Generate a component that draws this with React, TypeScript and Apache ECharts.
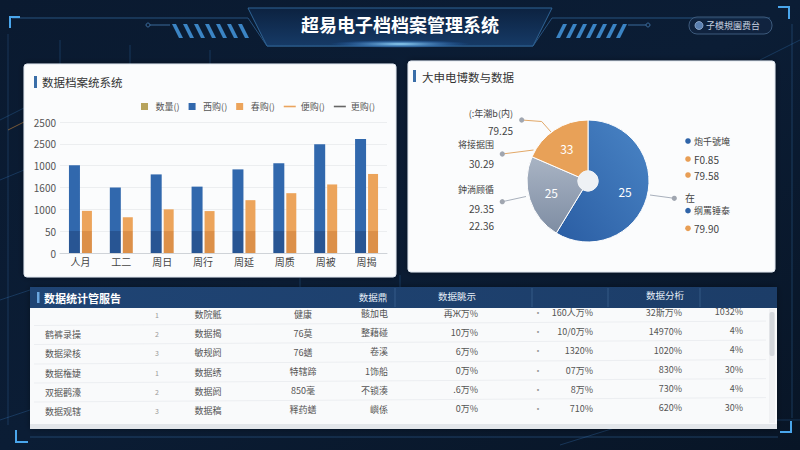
import { useEffect, useRef } from "react";
import * as echarts from "echarts";

// ---------- data ----------
const categories = ["人月", "工二", "周日", "周行", "周延", "周质", "周被", "周揭"];
const blueValues = [2010, 1500, 1800, 1520, 1915, 2055, 2490, 2610];
const orangeValues = [965, 820, 1000, 960, 1210, 1370, 1570, 1810];
const yTickLabels = ["0", "50", "1000", "1600", "1000", "2500", "2500"];
const legendNames = ["数量()", "西购()", "春购()", "便购()", "更购()"];

const pieNames = ["档案利用", "资源分类", "鉴定存储"];
const pieValues = [58.7, 22.8, 18.5];
const pieInnerLabels = ["25", "25", "33"];
const pieLeftTitles = ["(:年潮b(内)", "将接据围", "鈡淌顾循"];
const pieLeftValues = [["79.25"], ["30.29"], ["29.35", "22.36"]];
const pieRightItems = ["炮千號埯", "F0.85", "79.58", "在", "纲罵锤泰", "79.90"];
const pieRightDots = ["blue", "orange", "orange", "", "blue", "orange"];

const tableHeaders = ["数据鼎", "数据眺示", "数据分桁"];
const rowNames = ["", "鹤裤录操", "数据梁核", "数据権婕", "双据鹳濠", "数据观辖"];
const rowIndex = ["1", "2", "3", "1", "2", "3"];
const colA = ["数院骶", "数据揭", "敏规阏", "数据绣", "数据阏", "数据稿"];
const colB = ["健康", "76莫", "76蟮", "特辖蹄", "850毫", "释药蟮"];
const colC = ["骸加电", "整藉碰", "卷溪", "1饰船", "不锁湊", "嶼係"];
const colD = ["再Ж万%", "10万%", "6万%", "0万%", ".6万%", "0万%"];
const colE = ["160人万%", "10/0万%", "1320%", "07万%", "8万%", "710%"];
const colF = ["32斯万%", "14970%", "1020%", "830%", "730%", "620%"];
const colG = ["1032%", "4%", "4%", "30%", "4%", "30%"];

const FONT = "'Noto Sans CJK SC', 'Noto Sans', sans-serif";
const BLUE = "#2f64a8";
const ORANGE = "#e89e55";

function txt(x: number, y: number, text: string, o: any = {}) {
  return {
    type: "text",
    x,
    y,
    z: o.z ?? 5,
    style: {
      text,
      fill: o.fill ?? "#555",
      fontSize: o.size ?? 9,
      fontFamily: FONT,
      fontWeight: o.weight ?? "normal",
      align: o.align ?? "left",
      verticalAlign: "middle",
    },
  };
}

function buildGraphics() {
  const g: any[] = [];
  // background decorations
  const deco = "rgba(60,130,200,0.28)";
  const bgLines = [
    [[0, 120], [60, 90], [60, 40]],
    [[130, 45], [130, 70]],
    [[210, 50], [210, 66]],
    [[0, 300], [30, 290]],
    [[0, 420], [120, 380], [300, 380]],
    [[560, 445], [640, 420], [800, 420]],
    [[400, 275], [400, 290]],
    [[300, 278], [300, 288]],
    [[760, 60], [800, 40]],
    [[0, 180], [24, 170]],
  ];
  bgLines.forEach((pts) =>
    g.push({ type: "polyline", z: -3, shape: { points: pts }, style: { stroke: deco, lineWidth: 1, fill: null } })
  );
  g.push({ type: "line", z: -3, shape: { x1: 8, y1: 130, x2: 24, y2: 122 }, style: { stroke: "rgba(230,150,60,0.5)", lineWidth: 1 } });

  // header
  g.push({
    type: "polyline",
    z: -2,
    shape: { points: [[12, 18], [248, 18], [267, 46], [533, 46], [552, 18], [770, 18]] },
    style: { stroke: "#27527f", lineWidth: 1, fill: null },
  });
  g.push({
    type: "polygon",
    z: -2,
    shape: { points: [[248, 8], [552, 8], [533, 46], [267, 46]] },
    style: {
      fill: { type: "linear", x: 0, y: 0, x2: 0, y2: 1, colorStops: [{ offset: 0, color: "#0c2240" }, { offset: 1, color: "#163a66" }] },
      stroke: "#2f6496",
      lineWidth: 1,
    },
  });
  g.push({
    type: "ellipse",
    z: -1,
    shape: { cx: 400, cy: 44, rx: 70, ry: 4 },
    style: {
      fill: { type: "radial", x: 0.5, y: 0.5, r: 0.5, colorStops: [{ offset: 0, color: "rgba(160,225,255,0.95)" }, { offset: 1, color: "rgba(40,120,220,0)" }] },
    },
  });
  for (let i = 0; i < 7; i++) {
    const x = 172 + i * 11;
    g.push({ type: "polygon", z: -1, shape: { points: [[x, 24], [x + 4, 24], [x + 11, 38], [x + 7, 38]] }, style: { fill: "#3b84c4" } });
    const xr = 556 + i * 10;
    g.push({ type: "polygon", z: -1, shape: { points: [[xr + 7, 24], [xr + 11, 24], [xr + 4, 38], [xr, 38]] }, style: { fill: "#3b84c4" } });
  }
  g.push({ type: "circle", z: -1, shape: { cx: 148, cy: 25, r: 2 }, style: { fill: null, stroke: "#3a6a9a" } });
  g.push({ type: "line", z: -1, shape: { x1: 150, y1: 25, x2: 170, y2: 25 }, style: { stroke: "#3a6a9a" } });
  g.push({ type: "circle", z: -1, shape: { cx: 648, cy: 25, r: 2 }, style: { fill: null, stroke: "#3a6a9a" } });
  g.push({ type: "line", z: -1, shape: { x1: 628, y1: 25, x2: 646, y2: 25 }, style: { stroke: "#3a6a9a" } });
  g.push(txt(400, 24, "超易电子档档案管理系统", { fill: "#ffffff", size: 18, weight: "bold", align: "center" }));
  // header button
  g.push({ type: "rect", z: -1, shape: { x: 689, y: 17, width: 83, height: 17, r: 8 }, style: { fill: "rgba(20,40,70,0.6)", stroke: "#3d5a7c", lineWidth: 1 } });
  g.push({ type: "circle", z: 3, shape: { cx: 699, cy: 25.5, r: 4 }, style: { fill: "#5a7fb0", stroke: "#9ab4d6", lineWidth: 0.8 } });
  g.push(txt(706, 25.5, "子模規園费台", { fill: "#c3cede", size: 9 }));

  // frame corners
  const cornerStyle = { stroke: "#4aa6ec", lineWidth: 2, fill: null };
  [
    [[10, 28], [10, 17], [20, 17]],
    [[778, 7], [789, 7], [789, 19]],
    [[16, 430], [16, 442], [28, 442]],
    [[780, 432], [791, 432], [791, 421]],
  ].forEach((pts) => g.push({ type: "polyline", z: -1, shape: { points: pts }, style: cornerStyle }));
  g.push({ type: "line", z: -2, shape: { x1: 30, y1: 437, x2: 778, y2: 437 }, style: { stroke: "rgba(70,140,210,0.35)" } });
  g.push({ type: "line", z: -2, shape: { x1: 792, y1: 24, x2: 792, y2: 418 }, style: { stroke: "rgba(70,140,210,0.3)" } });
  g.push({ type: "line", z: -2, shape: { x1: 8, y1: 34, x2: 8, y2: 425 }, style: { stroke: "rgba(70,140,210,0.25)" } });

  // cards (below axes)
  const cardStyle = { fill: "#fbfcfd", shadowBlur: 6, shadowColor: "rgba(0,0,0,0.35)", stroke: "#dfe6ee", lineWidth: 1 };
  g.push({ type: "rect", z: -1, shape: { x: 24, y: 64, width: 372, height: 213, r: 3 }, style: cardStyle });
  g.push({ type: "rect", z: -1, shape: { x: 408, y: 61, width: 367, height: 211, r: 3 }, style: cardStyle });
  g.push({ type: "rect", z: 3, shape: { x: 34, y: 76, width: 3, height: 12 }, style: { fill: "#3a6ea8" } });
  g.push(txt(42, 82, "数据档案统系统", { fill: "#333", size: 11.5 }));
  g.push({ type: "rect", z: 3, shape: { x: 413, y: 70, width: 3, height: 12 }, style: { fill: "#3a6ea8" } });
  g.push(txt(422, 77, "大申电博数与数据", { fill: "#333", size: 11.5 }));

  // pie hole
  g.push({ type: "circle", z: 10, shape: { cx: 588, cy: 181, r: 10.5 }, style: { fill: "#eef1f5" } });
  // pie annotations - left
  const leftTitleY = [113, 144, 189];
  const leftValY = [[130], [163], [208, 225]];
  const leftRight = [513, 494, 494];
  pieLeftTitles.forEach((t, i) => {
    g.push(txt(leftRight[i], leftTitleY[i], t, { align: "right", fill: "#444", size: 9 }));
    pieLeftValues[i].forEach((v, j) => g.push(txt(leftRight[i], leftValY[i][j], v, { align: "right", fill: "#444", size: 10 })));
  });
  const leaders = [
    { pts: [[521.7, 120], [541.7, 121.5], [551, 132]], c: "#e2a868", dot: 0 },
    { pts: [[502.3, 154], [533.5, 150]], c: "#e2a868", dot: 0 },
    { pts: [[502.3, 201.7], [526, 196.5]], c: "#a8b0bc", dot: 0 },
    { pts: [[650, 195], [674.3, 198.3]], c: "#a8b0bc", dot: 1 },
  ];
  leaders.forEach((l) => {
    g.push({ type: "polyline", z: 4, shape: { points: l.pts }, style: { stroke: l.c, lineWidth: 1, fill: null } });
    const p = l.pts[l.dot];
    g.push({ type: "circle", z: 4, shape: { cx: p[0], cy: p[1], r: 2.6 }, style: { fill: "#a0a6b0" } });
  });
  const rightY = [141, 159, 175, 197, 210.7, 228.3];
  pieRightItems.forEach((t, i) => {
    const d = pieRightDots[i];
    if (d) g.push({ type: "circle", z: 4, shape: { cx: 688, cy: rightY[i], r: 2.8 }, style: { fill: d === "blue" ? BLUE : ORANGE } });
    g.push(txt(d ? 694 : 685, rightY[i], t, { fill: "#444", size: d && !/^[A-Z0-9]/.test(t) ? 9 : 10 }));
  });

  // table
  const tX = 30, tW = 747;
  g.push({ type: "rect", z: -1, shape: { x: tX, y: 287, width: tW, height: 142, r: 2 }, style: { fill: "#f9fafb", shadowBlur: 6, shadowColor: "rgba(0,0,0,0.35)" } });
  g.push({
    type: "rect",
    z: 2,
    shape: { x: tX, y: 287, width: tW, height: 21 },
    style: { fill: { type: "linear", x: 0, y: 0, x2: 1, y2: 0, colorStops: [{ offset: 0, color: "#1f4474" }, { offset: 1, color: "#1c3d68" }] } },
  });
  [395, 532, 608, 700].forEach((x) =>
    g.push({ type: "line", z: 3, shape: { x1: x, y1: 288, x2: x, y2: 307 }, style: { stroke: "rgba(120,170,220,0.25)" } })
  );
  g.push({ type: "rect", z: 3, shape: { x: 37, y: 292, width: 2.5, height: 11 }, style: { fill: "#6aa6e0" } });
  g.push(txt(44, 298, "数据统计管服告", { fill: "#ffffff", size: 11, weight: "bold" }));
  const hdrX = [373, 457, 665];
  tableHeaders.forEach((h, i) => g.push(txt(hdrX[i], 297 - i, h, { fill: "#e6eef8", size: 9.5, align: "center", z: 4 })));
  g.push({ type: "rect", z: 2, shape: { x: tX, y: 424, width: tW, height: 5 }, style: { fill: "#e3e6ea" } });
  g.push({ type: "rect", z: 3, shape: { x: 769, y: 309, width: 6, height: 114 }, style: { fill: "#f0f1f3" } });
  g.push({ type: "rect", z: 4, shape: { x: 769.5, y: 312, width: 5, height: 44, r: 2 }, style: { fill: "#d4d7dc" } });

  const rowY = [316, 335, 354, 373.5, 392.5, 411.5];
  const tilt = (x: number) => -(x - 30) * 0.006;
  rowY.forEach((y, r) => {
    if (r > 0) g.push({ type: "line", z: 3, shape: { x1: tX + 4, y1: y - 9.5, x2: 766, y2: y - 9.5 + tilt(766) }, style: { stroke: "#eceef1" } });
    const cells: [number, string, string][] = [
      [45, rowNames[r], "left"],
      [157, rowIndex[r], "center"],
      [208, colA[r], "center"],
      [303, colB[r], "center"],
      [388, colC[r], "right"],
      [478, colD[r], "right"],
      [538, "·", "center"],
      [593, colE[r], "right"],
      [682, colF[r], "right"],
      [743, colG[r], "right"],
    ];
    cells.forEach(([x, t, a]) => {
      if (!t) return;
      g.push(txt(x, y + tilt(x), t, { align: a, fill: x === 157 || x === 538 ? "#999" : "#555", size: x === 157 ? 7 : 9, z: 5 }));
    });
  });
  return g;
}

export default function App() {
  const ref = useRef<HTMLDivElement>(null);
  useEffect(() => {
    document.body.style.margin = "0";
    const chart = echarts.init(ref.current!, null, { renderer: "svg" });
    const yZero = 253, yTop = 122;
    const y500 = yZero - (yZero - yTop) / 6;
    const cut = y500 / 450;
    const barGrad = (top: string, low: string) => ({
      type: "linear",
      x: 0,
      y: 0,
      x2: 0,
      y2: 450,
      global: true,
      colorStops: [
        { offset: 0, color: top },
        { offset: cut, color: top },
        { offset: cut, color: low },
        { offset: 1, color: low },
      ],
    });
    const sq = "path://M0,0h7v7h-7z";
    const ln = "path://M0,0h12v1.6h-12z";
    const pieColors = [
      { type: "linear", x: 1, y: 0, x2: 0, y2: 1, colorStops: [{ offset: 0, color: "#4a85c6" }, { offset: 1, color: "#2a5da3" }] },
      { type: "linear", x: 0, y: 0, x2: 0, y2: 1, colorStops: [{ offset: 0, color: "#a9b4c4" }, { offset: 1, color: "#7e8da3" }] },
      "#e8a158",
    ];
    chart.setOption({
      animation: false,
      backgroundColor: {
        type: "linear",
        x: 0,
        y: 0,
        x2: 1,
        y2: 1,
        colorStops: [
          { offset: 0, color: "#0a1a30" },
          { offset: 0.5, color: "#0b1d35" },
          { offset: 1, color: "#081526" },
        ],
      },
      textStyle: { fontFamily: FONT },
      graphic: { elements: buildGraphics() },
      legend: {
        left: 136,
        top: 97,
        itemWidth: 12,
        itemHeight: 7,
        itemGap: 9,
        textStyle: { color: "#555", fontSize: 9, fontFamily: FONT },
        data: [
          { name: legendNames[0], icon: sq },
          { name: legendNames[1], icon: sq },
          { name: legendNames[2], icon: sq },
          { name: legendNames[3], icon: ln },
          { name: legendNames[4], icon: ln },
        ],
      },
      grid: { left: 60, right: 413, top: yTop, bottom: 450 - yZero },
      xAxis: {
        type: "category",
        data: categories,
        z: 1,
        axisTick: { show: false },
        splitLine: { show: false },
        axisLine: { lineStyle: { color: "#cfd3d8" } },
        axisLabel: { color: "#444", fontSize: 10, margin: 3 },
      },
      yAxis: {
        type: "value",
        min: 0,
        max: 3000,
        interval: 500,
        z: 1,
        axisTick: { show: false },
        axisLine: { show: false },
        axisLabel: { color: "#555", fontSize: 10, margin: 4, formatter: (v: number) => yTickLabels[Math.round(v / 500)] },
        splitLine: { lineStyle: { color: "#eceef0" } },
      },
      series: [
        { name: legendNames[0], type: "line", data: [], itemStyle: { color: "#b7a35c" } },
        {
          name: legendNames[1],
          type: "bar",
          data: blueValues,
          barWidth: 11,
          barGap: "18%",
          itemStyle: { color: barGrad("#3168ad", "#285593") },
        },
        {
          name: legendNames[2],
          type: "bar",
          data: orangeValues,
          barWidth: 10,
          itemStyle: { color: barGrad("#eca45b", "#dc9049") },
        },
        { name: legendNames[3], type: "line", data: [], itemStyle: { color: "#eaa45e" }, lineStyle: { color: "#eaa45e" } },
        { name: legendNames[4], type: "line", data: [], itemStyle: { color: "#666" }, lineStyle: { color: "#666" } },
        {
          name: "pie",
          type: "pie",
          center: [588, 181],
          radius: [10, 61],
          startAngle: 90,
          clockwise: true,
          itemStyle: { borderColor: "#ffffff", borderWidth: 1 },
          label: {
            show: true,
            position: "inside",
            color: "#ffffff",
            fontSize: 12,
            formatter: (p: any) => pieInnerLabels[p.dataIndex],
          },
          labelLine: { show: false },
          emphasis: { disabled: true },
          data: pieValues.map((v, i) => ({ name: pieNames[i], value: v, itemStyle: { color: pieColors[i] } })),
        },
      ],
    });
    return () => chart.dispose();
  }, []);
  return <div ref={ref} style={{ position: "absolute", left: 0, top: 0, width: 800, height: 450 }} />;
}
